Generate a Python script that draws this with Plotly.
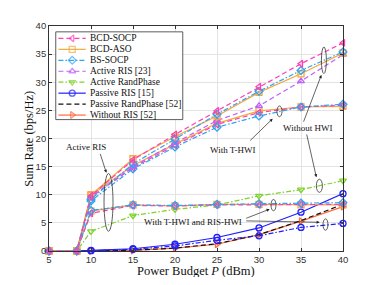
import plotly.graph_objects as go

# ---------------- data ----------------
P = [5, 8.3, 10, 15, 20, 25, 30, 35, 40]

# Active RIS, without HWI
bcd_socp_nohwi = [0, 0, 9.8, 16.2, 20.7, 24.9, 29.2, 33.3, 37.0]
bcd_aso_nohwi = [0, 0, 10.0, 16.4, 20.3, 24.0, 28.2, 31.5, 35.2]
bs_socp_nohwi = [0, 0, 9.2, 15.5, 19.9, 24.3, 28.4, 32.1, 35.4]
active_ris23 = [0, 0, 9.6, 15.0, 19.2, 23.2, 25.8, 30.2, 34.9]

# Active RIS, with T-HWI
bcd_socp_thwi = [0, 0, 9.6, 14.8, 18.8, 22.5, 24.6, 25.6, 25.9]
bcd_aso_thwi = [0, 0, 9.9, 15.2, 19.0, 22.7, 24.9, 25.6, 25.7]
bs_socp_thwi = [0, 0, 8.9, 14.6, 18.5, 22.0, 24.0, 25.6, 26.1]

# Active RIS, with T-HWI and RIS-HWI
bcd_socp_rhwi = [0, 0, 6.7, 8.1, 8.0, 8.2, 8.2, 8.3, 8.3]
bcd_aso_rhwi = [0, 0, 7.1, 8.2, 8.0, 8.3, 8.3, 8.2, 8.2]
bs_socp_rhwi = [0, 0, 7.2, 8.2, 8.1, 8.3, 8.4, 8.5, 8.6]

active_randphase = [0, 0, 3.5, 6.3, 7.4, 8.2, 9.8, 10.9, 12.5]
passive_ris15 = [0, 0, 0.1, 0.4, 1.2, 2.4, 4.1, 6.9, 10.2]
passive_ris15_hwi = [0, 0, 0.05, 0.3, 0.9, 1.9, 2.7, 4.2, 4.9]
passive_randphase52 = [0, 0, 0.02, 0.15, 0.5, 1.3, 2.9, 5.4, 8.3]
without_ris52 = [0, 0, 0.0, 0.1, 0.5, 1.2, 2.9, 5.3, 7.9]

legend_names = ["BCD-SOCP", "BCD-ASO", "BS-SOCP", "Active RIS [23]",
                "Active RandPhase", "Passive RIS [15]", "Passive RandPhase [52]",
                "Without RIS [52]"]

x_ticks = [5, 10, 15, 20, 25, 30, 35, 40]
y_ticks = [0, 5, 10, 15, 20, 25, 30, 35, 40]

# ---------------- styles ----------------
DASH = "5px,3px"
DASHDOT = "5px,2px,1.5px,2px"
STY = {
    "BCD-SOCP": dict(color="#ff3fb4", dash=DASH, symbol="triangle-left-open"),
    "BCD-ASO": dict(color="#f5a93a", dash="solid", symbol="square-open"),
    "BS-SOCP": dict(color="#2ea3f2", dash=DASHDOT, symbol="diamond-open"),
    "Active RIS [23]": dict(color="#bf5fff", dash=DASH, symbol="triangle-up-open"),
    "Active RandPhase": dict(color="#7fd22a", dash=DASHDOT, symbol="triangle-down-open"),
    "Passive RIS [15]": dict(color="#1f1fff", dash="solid", symbol="circle-open"),
    "Passive RandPhase [52]": dict(color="#111111", dash=DASH, symbol=None),
    "Without RIS [52]": dict(color="#ff6a3d", dash="solid", symbol="triangle-right-open"),
}

fig = go.Figure()

def add(name, y, dash=None):
    s = STY[name]
    mode = "lines+markers" if s["symbol"] else "lines"
    fig.add_trace(go.Scatter(
        x=P, y=y, mode=mode, name=name, showlegend=False, cliponaxis=False,
        line=dict(color=s["color"], width=1.2, dash=dash or s["dash"]),
        marker=dict(symbol=s["symbol"] or "circle", size=6,
                    line=dict(color=s["color"], width=1.3)),
    ))

add("Without RIS [52]", without_ris52)
add("Passive RandPhase [52]", passive_randphase52)
add("Passive RIS [15]", passive_ris15_hwi, dash=DASHDOT)
add("Passive RIS [15]", passive_ris15)
add("Active RandPhase", active_randphase)
add("BCD-ASO", bcd_aso_rhwi)
add("BCD-SOCP", bcd_socp_rhwi)
add("BS-SOCP", bs_socp_rhwi)
add("BCD-ASO", bcd_aso_thwi)
add("BCD-SOCP", bcd_socp_thwi)
add("BS-SOCP", bs_socp_thwi)
add("Active RIS [23]", active_ris23)
add("BCD-ASO", bcd_aso_nohwi)
add("BS-SOCP", bs_socp_nohwi)
add("BCD-SOCP", bcd_socp_nohwi)

# ---------------- manual compact legend (overlay axes in plot-area fractions) ----------------
L_X0, L_X1, L_Y0, L_Y1 = 0.023, 0.455, 0.584, 0.974
fig.add_trace(go.Scatter(
    x=[L_X0, L_X1, L_X1, L_X0, L_X0], y=[L_Y0, L_Y0, L_Y1, L_Y1, L_Y0],
    xaxis="x2", yaxis="y2", mode="lines", fill="toself", fillcolor="white",
    line=dict(color="#333333", width=0.8), showlegend=False, hoverinfo="skip"))
row_top, row_step = 0.945, 0.0487
for i, name in enumerate(legend_names):
    s = STY[name]
    yy = row_top - i * row_step
    fig.add_trace(go.Scatter(
        x=[0.032, 0.079, 0.125], y=[yy, yy, yy], xaxis="x2", yaxis="y2",
        mode="lines+markers" if s["symbol"] else "lines", showlegend=False, hoverinfo="skip",
        line=dict(color=s["color"], width=1.2, dash=s["dash"]),
        marker=dict(symbol=s["symbol"] or "circle", size=[0, 6, 0],
                    line=dict(color=s["color"], width=1.3)),
    ))
    fig.add_annotation(x=0.132, y=yy, xref="x2", yref="y2", text=name, showarrow=False,
                       xanchor="left", yanchor="middle",
                       font=dict(family="Liberation Serif", size=9.5, color="#111"))

# ---------------- ellipses & callouts ----------------
ELL = dict(type="circle", xref="x", yref="y", line=dict(color="#333", width=0.8))
for (x0, x1, y0, y1) in [(11.55, 12.62, 3.51, 13.79),
                         (32.14, 32.74, 23.88, 25.78),
                         (37.43, 38.02, 31.54, 36.28),
                         (36.83, 37.55, 10.43, 12.75),
                         (31.43, 32.02, 7.15, 9.17),
                         (37.62, 38.21, 3.69, 5.71)]:
    fig.add_shape(x0=x0, x1=x1, y0=y0, y1=y1, **ELL)

TFONT = dict(family="Liberation Serif", size=9, color="#111")
for (txt, x, y) in [("Active RIS", 9.40, 18.5), ("With T-HWI", 26.87, 17.94),
                    ("Without HWI", 35.80, 21.8), ("With T-HWI and RIS-HWI", 22.11, 5.19)]:
    fig.add_annotation(x=x, y=y, text=txt, showarrow=False, font=TFONT)

ARW = dict(showarrow=True, arrowhead=2, arrowsize=0.9, arrowwidth=0.7, arrowcolor="#222",
           axref="x", ayref="y", text="", standoff=0, startstandoff=0)
for (tx, ty, hx, hy) in [(11.04, 17.53, 11.83, 13.89),
                         (28.77, 19.38, 31.63, 23.53),
                         (35.24, 22.72, 37.43, 31.31),
                         (35.64, 20.99, 36.83, 13.10),
                         (28.30, 5.71, 31.27, 7.44),
                         (28.30, 5.36, 37.23, 5.10)]:
    fig.add_annotation(x=hx, y=hy, ax=tx, ay=ty, **ARW)

# axis titles
TTL = dict(family="Liberation Serif", size=12.5, color="#111")
fig.add_annotation(x=0.5, y=-0.087, xref="paper", yref="paper", text="Power Budget <i>P</i> (dBm)",
                   showarrow=False, xanchor="center", yanchor="middle", font=TTL)
fig.add_annotation(x=-0.071, y=0.5, xref="paper", yref="paper", text="Sum Rate (bps/Hz)",
                   showarrow=False, xanchor="center", yanchor="middle", textangle=-90, font=TTL)

AX = dict(showline=True, linecolor="#333", linewidth=0.8, mirror="ticks",
          ticks="inside", ticklen=3, tickcolor="#333", tickwidth=0.8,
          showgrid=True, gridcolor="#e3e3e3", gridwidth=0.8, zeroline=False,
          tickfont=dict(family="Liberation Sans", size=9.5, color="#333"))
# page body has an 8px margin, so the figure is sized/offset to compensate
fig.update_layout(
    width=363, height=269, margin=dict(l=41, r=28, t=14, b=24),
    plot_bgcolor="white", paper_bgcolor="white", showlegend=False,
    xaxis=dict(range=[5, 40], tickvals=x_ticks, **AX),
    yaxis=dict(range=[0, 40], tickvals=y_ticks, **AX),
    xaxis2=dict(overlaying="x", range=[0, 1], visible=False),
    yaxis2=dict(overlaying="y", range=[0, 1], visible=False),
)
fig.write_html("out.html")
